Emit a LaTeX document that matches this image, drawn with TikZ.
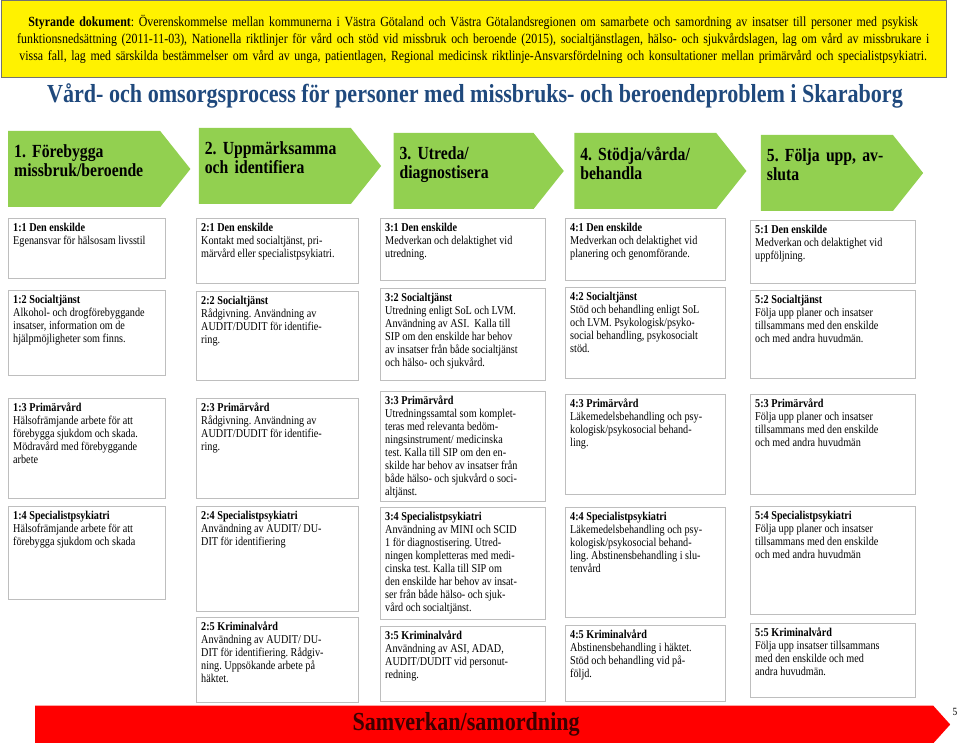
\documentclass[tikz,border=0pt]{standalone}
\usepackage{fontspec}
\setmainfont[FakeStretch=0.85]{Liberation Serif}
\frenchspacing
\usetikzlibrary{positioning,shapes.symbols}
\definecolor{stepgreen}{RGB}{146,208,80}
\definecolor{titleblue}{RGB}{31,73,125}
\definecolor{cellgray}{RGB}{190,190,190}
\definecolor{bartext}{RGB}{60,0,0}
\tikzset{
  docbox/.style={draw=black!55, fill=yellow, minimum width=945pt, minimum height=77pt, text width=935pt, align=center, inner sep=0pt, font=\fontsize{14}{17}\selectfont},
  heading/.style={text=titleblue, font=\fontsize{26}{30}\selectfont\bfseries},
  phase/.style={signal, signal to=east, signal pointer angle=103, fill=stepgreen, minimum height=76pt, inner xsep=6pt, inner ysep=0pt, text width=#1, align=left, text depth=35pt, font=\fontsize{18.5}{19}\selectfont\bfseries},
  cell/.style 2 args={draw=cellgray, fill=white, inner sep=5pt, font=\fontsize{12}{13}\selectfont,
    execute at begin node={\begin{minipage}[t][#2][t]{#1}\raggedright},
    execute at end node={\end{minipage}}},
  sambar/.style={signal, signal to=east, signal pointer angle=96, fill=red, minimum height=38pt, minimum width=915pt, inner sep=0pt, text=bartext, font=\fontsize{26}{28}\selectfont\bfseries}
}

\begin{document}
\begin{tikzpicture}[x=1pt, y=-1pt]
  \useasboundingbox (0,0) rectangle (960,743);
  \node[docbox, anchor=north west] (doc) at (0.5,0.5) {\textbf{Styrande dokument}: Överenskommelse mellan kommunerna i Västra Götaland och Västra Götalandsregionen om samarbete och samordning av insatser till personer med psykisk\\ funktionsnedsättning (2011-11-03), Nationella riktlinjer för vård och stöd vid missbruk och beroende (2015), socialtjänstlagen, hälso- och sjukvårdslagen, lag om vård av missbrukare i\\ vissa fall, lag med särskilda bestämmelser om vård av unga, patientlagen, Regional medicinsk riktlinje-Ansvarsfördelning och konsultationer mellan primärvård och specialistpsykiatri.};
  \node[heading] (title) at (475,96) {Vård- och omsorgsprocess för personer med missbruks- och beroendeproblem i Skaraborg};

  \node[phase=140pt, anchor=west] (p1) at (8,169) {1. Förebygga\\missbruk/beroende};
  \node[phase=140pt, right=8pt of p1, yshift=3pt] (p2) {2. Uppmärksamma\\och identifiera};
  \node[phase=128pt, right=12pt of p2, yshift=-5pt] (p3) {3. Utreda/\\diagnostisera};
  \node[phase=130pt, right=10pt of p3] (p4) {4. Stödja/vårda/\\behandla};
  \node[phase=120pt, right=14pt of p4, yshift=-2pt] (p5) {5. Följa upp, av-\\sluta};

  \node[cell={147pt}{50pt}, anchor=north west] (b11) at (8,218) {\textbf{1:1 Den enskilde}\\Egenansvar för hälsosam livsstil};
  \node[cell={147pt}{75pt}, below=12pt of b11] (b12) {\textbf{1:2 Socialtjänst}\\Alkohol- och drogförebyggande\\insatser, information om de\\hjälpmöjligheter som finns.};
  \node[cell={147pt}{90pt}, below=22pt of b12] (b13) {\textbf{1:3 Primärvård}\\Hälsofrämjande arbete för att\\förebygga sjukdom och skada.\\Mödravård med förebyggande\\arbete};
  \node[cell={147pt}{83pt}, below=8pt of b13] (b14) {\textbf{1:4 Specialistpsykiatri}\\Hälsofrämjande arbete för att\\förebygga sjukdom och skada};

  \node[cell={152pt}{55pt}, anchor=north west] (b21) at (196,218) {\textbf{2:1 Den enskilde}\\Kontakt med socialtjänst, pri-\\märvård eller specialistpsykiatri.};
  \node[cell={152pt}{79pt}, below=8pt of b21] (b22) {\textbf{2:2 Socialtjänst}\\Rådgivning. Användning av\\AUDIT/DUDIT för identifie-\\ring.};
  \node[cell={152pt}{90pt}, below=17pt of b22] (b23) {\textbf{2:3 Primärvård}\\Rådgivning. Användning av\\AUDIT/DUDIT för identifie-\\ring.};
  \node[cell={152pt}{95pt}, below=8pt of b23] (b24) {\textbf{2:4 Specialistpsykiatri}\\Användning av AUDIT/ DU-\\DIT för identifiering};
  \node[cell={152pt}{75pt}, below=5pt of b24] (b25) {\textbf{2:5 Kriminalvård}\\Användning av AUDIT/ DU-\\DIT för identifiering. Rådgiv-\\ning. Uppsökande arbete på\\häktet.};

  \node[cell={155pt}{52pt}, anchor=north west] (b31) at (380,218) {\textbf{3:1 Den enskilde}\\Medverkan och delaktighet vid\\utredning.};
  \node[cell={155pt}{82pt}, below=8pt of b31] (b32) {\textbf{3:2 Socialtjänst}\\Utredning enligt SoL och LVM.\\Användning av ASI.\ \ Kalla till\\SIP om den enskilde har behov\\av insatser från både socialtjänst\\och hälso- och sjukvård.};
  \node[cell={155pt}{100pt}, below=10pt of b32] (b33) {\textbf{3:3 Primärvård}\\Utredningssamtal som komplet-\\teras med relevanta bedöm-\\ningsinstrument/ medicinska\\test. Kalla till SIP om den en-\\skilde har behov av insatser från\\både hälso- och sjukvård o soci-\\altjänst.};
  \node[cell={155pt}{102pt}, below=6pt of b33] (b34) {\textbf{3:4 Specialistpsykiatri}\\Användning av MINI och SCID\\1 för diagnostisering. Utred-\\ningen kompletteras med medi-\\cinska test. Kalla till SIP om\\den enskilde har behov av insat-\\ser från både hälso- och sjuk-\\vård och socialtjänst.};
  \node[cell={155pt}{65pt}, below=6pt of b34] (b35) {\textbf{3:5 Kriminalvård}\\Användning av ASI, ADAD,\\AUDIT/DUDIT vid personut-\\redning.};

  \node[cell={150pt}{52pt}, anchor=north west] (b41) at (565,218) {\textbf{4:1 Den enskilde}\\Medverkan och delaktighet vid\\planering och genomförande.};
  \node[cell={150pt}{81pt}, below=7pt of b41] (b42) {\textbf{4:2 Socialtjänst}\\Stöd och behandling enligt SoL\\och LVM. Psykologisk/psyko-\\social behandling, psykosocialt\\stöd.};
  \node[cell={150pt}{90pt}, below=15pt of b42] (b43) {\textbf{4:3 Primärvård}\\Läkemedelsbehandling och psy-\\kologisk/psykosocial behand-\\ling.};
  \node[cell={150pt}{100pt}, below=13pt of b43] (b44) {\textbf{4:4 Specialistpsykiatri}\\Läkemedelsbehandling och psy-\\kologisk/psykosocial behand-\\ling. Abstinensbehandling i slu-\\tenvård};
  \node[cell={150pt}{66pt}, below=7pt of b44] (b45) {\textbf{4:5 Kriminalvård}\\Abstinensbehandling i häktet.\\Stöd och behandling vid på-\\följd.};

  \node[cell={155pt}{53pt}, anchor=north west] (b51) at (750,220) {\textbf{5:1 Den enskilde}\\Medverkan och delaktighet vid\\uppföljning.};
  \node[cell={155pt}{78pt}, below=7pt of b51] (b52) {\textbf{5:2 Socialtjänst}\\Följa upp planer och insatser\\tillsammans med den enskilde\\och med andra huvudmän.};
  \node[cell={155pt}{90pt}, below=15pt of b52] (b53) {\textbf{5:3 Primärvård}\\Följa upp planer och insatser\\tillsammans med den enskilde\\och med andra huvudmän};
  \node[cell={155pt}{98pt}, below=12pt of b53] (b54) {\textbf{5:4 Specialistpsykiatri}\\Följa upp planer och insatser\\tillsammans med den enskilde\\och med andra huvudmän};
  \node[cell={155pt}{64pt}, below=8pt of b54] (b55) {\textbf{5:5 Kriminalvård}\\Följa upp insatser tillsammans\\med den enskilde och med\\andra huvudmän.};

  \node[sambar, anchor=west] (samverkan) at (35,724.5) {\hspace*{-36pt}Samverkan/samordning};
  \node[font=\fontsize{11}{13}\selectfont] (page) at (955,712) {5};
\end{tikzpicture}
\end{document}
